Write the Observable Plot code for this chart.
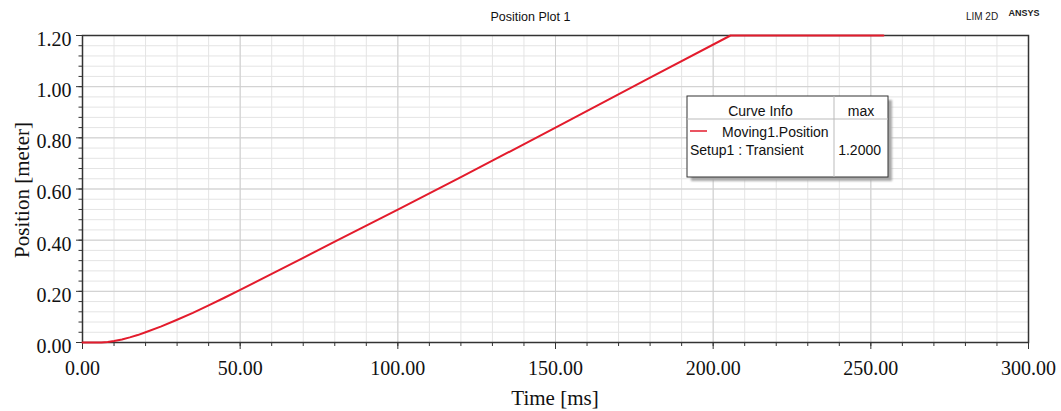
<!DOCTYPE html>
<html>
<head>
<meta charset="utf-8">
<script src="https://cdn.jsdelivr.net/npm/d3@7"></script>
<script src="https://cdn.jsdelivr.net/npm/@observablehq/plot@0.6"></script>
<style>
  html, body { margin: 0; padding: 0; background: #fff; }
  #chart { position: relative; width: 1061px; height: 411px; }
</style>
</head>
<body>
<div id="chart"></div>
<script>
// Moving1.Position over the transient run (time in ms, position in m)
const timeMs = [0, 6, 8, 10, 12.5, 15, 17.5, 20, 25, 30, 35, 40, 45, 50, 60, 70, 80, 100, 120, 150, 180, 205.5, 254];
const positionM = [0, 0, 0.002, 0.006, 0.012, 0.02, 0.029, 0.04, 0.063, 0.089, 0.116, 0.145, 0.175, 0.206, 0.268, 0.331, 0.394, 0.519, 0.646, 0.840, 1.035, 1.2, 1.2];

// Axis ticks
const xMajor = [0, 50, 100, 150, 200, 250, 300];
const xMinor = [0, 10, 20, 30, 40, 50, 60, 70, 80, 90, 100, 110, 120, 130, 140, 150, 160, 170, 180, 190, 200, 210, 220, 230, 240, 250, 260, 270, 280, 290, 300];
const yMajor = [0, 0.2, 0.4, 0.6, 0.8, 1.0, 1.2];
const yMinor = [0, 0.04, 0.08, 0.12, 0.16, 0.2, 0.24, 0.28, 0.32, 0.36, 0.4, 0.44, 0.48, 0.52, 0.56, 0.6, 0.64, 0.68, 0.72, 0.76, 0.8, 0.84, 0.88, 0.92, 0.96, 1.0, 1.04, 1.08, 1.12, 1.16, 1.2];

// Legend text
const plotTitle = "Position Plot 1";
const curveName = "Moving1.Position";
const setupName = "Setup1 : Transient";

const data = timeMs.map((t, i) => ({t, p: positionM[i]}));
const lineColor = "#e31b2c";
const serif = "'Liberation Serif', 'Times New Roman', serif";
const sans = "'Liberation Sans', Arial, sans-serif";

const chart = Plot.plot({
  width: 1061,
  height: 411,
  marginLeft: 82,
  marginRight: 33,
  marginTop: 35,
  marginBottom: 69,
  style: {fontFamily: serif, fontSize: "20px", color: "#111", background: "#fff", overflow: "visible"},
  x: {domain: [0, 300]},
  y: {domain: [0, 1.2]},
  marks: [
    Plot.gridX(xMinor, {stroke: "#e4e4e4", strokeOpacity: 1}),
    Plot.gridY(yMinor, {stroke: "#e4e4e4", strokeOpacity: 1}),
    Plot.gridX(xMajor, {stroke: "#cfcfcf", strokeOpacity: 1}),
    Plot.gridY(yMajor, {stroke: "#cfcfcf", strokeOpacity: 1}),
    // minor and major tick marks
    Plot.axisX(xMinor, {tickSize: 4, tickFormat: () => "", label: null, stroke: "#333"}),
    Plot.axisX(xMajor, {tickSize: 7, tickFormat: () => "", label: null, stroke: "#333"}),
    Plot.axisY(yMinor, {tickSize: 3.5, tickFormat: () => "", label: null, stroke: "#333"}),
    Plot.axisY(yMajor, {tickSize: 6, tickFormat: () => "", label: null, stroke: "#333"}),
    // tick labels
    Plot.axisX(xMajor, {tickSize: 0, tickPadding: 18, tickFormat: d => d.toFixed(2), label: null, fontSize: 20, fill: "#111"}),
    Plot.axisY(yMajor, {tickSize: 0, tickPadding: 11, dy: 4, tickFormat: d => d.toFixed(2), label: null, fontSize: 20, fill: "#111"}),
    Plot.frame({stroke: "#333", strokeWidth: 1.5}),
    Plot.line(data, {x: "t", y: "p", stroke: lineColor, strokeWidth: 2, curve: "linear"})
  ]
});

const svg = d3.select(chart);

// Titles and axis labels
svg.append("text").attr("x", 530.5).attr("y", 21).attr("text-anchor", "middle")
  .attr("font-family", sans).attr("font-size", 12.5).attr("fill", "#111").text(plotTitle);
svg.append("text").attr("x", 982).attr("y", 19.5).attr("font-family", sans)
  .attr("font-size", 10).attr("fill", "#222").text("LIM 2D");
svg.append("text").attr("x", 1024).attr("y", 16).attr("font-family", sans)
  .attr("font-size", 9).attr("font-weight", "bold").attr("fill", "#222").text("ANSYS");
svg.append("text").attr("x", 555).attr("y", 405).attr("text-anchor", "middle")
  .attr("font-family", serif).attr("font-size", 21).attr("fill", "#111").text("Time [ms]");
svg.append("text").attr("transform", "translate(29,190) rotate(-90)").attr("text-anchor", "middle")
  .attr("font-family", serif).attr("font-size", 21).attr("fill", "#111").text("Position [meter]");

// Curve info box
const box = {x: 687, y: 96, w: 201, h: 81, split: 834, header: 119};
const lg = svg.append("g");
lg.append("rect").attr("x", box.x + 4).attr("y", box.y + 4).attr("width", box.w).attr("height", box.h)
  .attr("fill", "#a8a8a8").style("filter", "blur(1.2px)");
lg.append("rect").attr("x", box.x).attr("y", box.y).attr("width", box.w).attr("height", box.h)
  .attr("fill", "#fff").attr("stroke", "#333").attr("stroke-width", 1);
lg.append("line").attr("x1", box.x).attr("x2", box.x + box.w).attr("y1", box.header).attr("y2", box.header)
  .attr("stroke", "#bbb");
lg.append("line").attr("x1", box.split).attr("x2", box.split).attr("y1", box.y).attr("y2", box.y + box.h)
  .attr("stroke", "#bbb");
lg.append("line").attr("x1", 690).attr("x2", 707).attr("y1", 131).attr("y2", 131)
  .attr("stroke", lineColor).attr("stroke-width", 1.5);
const lt = (x, y, s, anchor = "start") => lg.append("text").attr("x", x).attr("y", y)
  .attr("text-anchor", anchor).attr("font-family", sans).attr("font-size", 14).attr("fill", "#111").text(s);
lt(760.5, 116, "Curve Info", "middle");
lt(861, 116, "max", "middle");
lt(722, 137, curveName);
lt(690, 154.5, setupName);
lt(881, 154.5, d3.max(positionM).toFixed(4), "end");

document.getElementById("chart").appendChild(chart);
</script>
</body>
</html>
